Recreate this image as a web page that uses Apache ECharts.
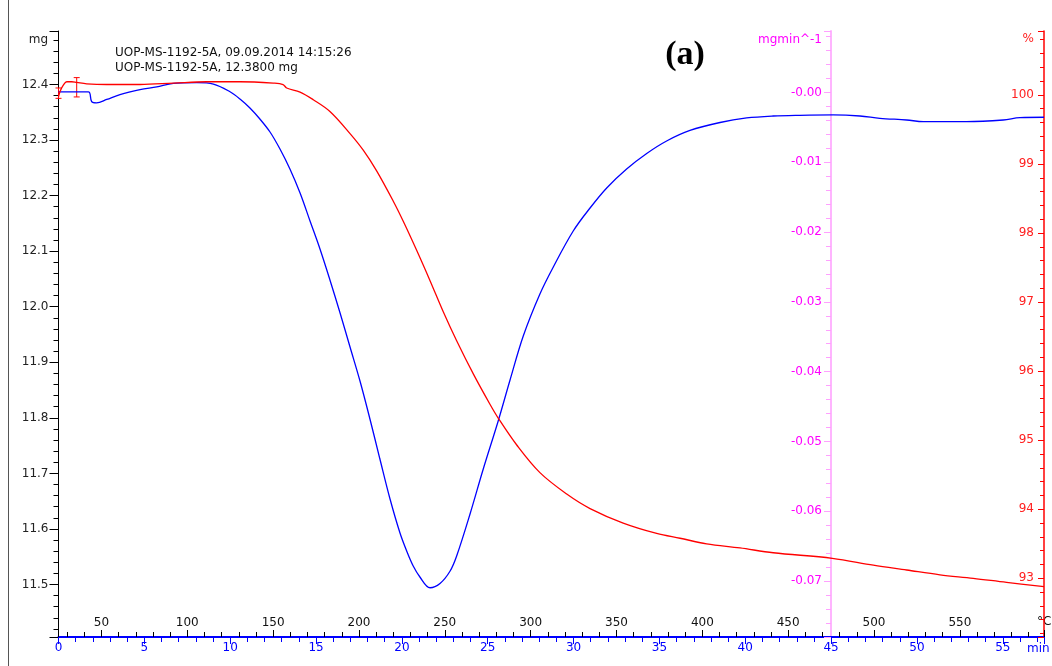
<!DOCTYPE html>
<html>
<head>
<meta charset="utf-8">
<title>UOP-MS-1192-5A TG / DTG</title>
<script src="https://cdn.jsdelivr.net/npm/echarts@6/dist/echarts.min.js"></script>
<style>
    html, body { margin: 0; padding: 0; background: #ffffff; }
    #tgChart { width: 1052px; height: 666px; }
</style>
</head>
<body>
<div id="tgChart"></div>
<script>
    // time axis (min) and the linked furnace temperature (°C)
    var timeMax = 57.4;
    var tempStart = 25;
    var heatRate = 10;

    // visible ranges of the three y axes
    var massRange = [11.4055, 12.4963];   // mg
    var dtgRange = [-0.07802, 0.00881];   // mgmin^-1
    var pctRange = [92.15, 100.925];      // %

    // TG curve (red), time in min / mass in %
    var tgTime = [0, 0.09, 0.28, 0.48, 0.77, 1.06, 1.64, 2.81, 4.75, 6.69, 8.63, 10.57,
        12.51, 13.08, 13.29, 14.07, 14.84, 15.81, 16.98, 17.75, 18.53, 19.50, 20.08, 20.86,
        21.64, 22.41, 23.19, 24.16, 25.13, 25.61, 26.69, 28.04, 29.60, 30.96, 32.89, 34.84,
        36.20, 37.75, 39.69, 41.63, 45.07, 47.46, 49.40, 51.34, 53.28, 55.22, 57.40];
    var tgPct = [99.97, 100.05, 100.14, 100.19, 100.19, 100.18, 100.16, 100.15, 100.15, 100.17, 100.19, 100.19,
        100.17, 100.15, 100.10, 100.04, 99.93, 99.76, 99.44, 99.20, 98.90, 98.46, 98.17, 97.75,
        97.31, 96.86, 96.44, 95.96, 95.52, 95.32, 94.93, 94.53, 94.22, 94.01, 93.80, 93.65,
        93.58, 93.50, 93.44, 93.37, 93.29, 93.19, 93.12, 93.05, 93.00, 92.94, 92.88];

    // DTG curve (blue), time in min / mgmin^-1
    var dtgTime = [0, 1.74, 1.93, 2.22, 2.81, 3.58, 4.75, 5.72, 6.69, 8.05, 9.02, 9.99,
        10.57, 11.15, 11.73, 12.32, 12.90, 13.48, 14.07, 14.65, 15.23, 15.81, 16.40, 16.98,
        17.56, 18.14, 18.72, 19.31, 19.89, 20.28, 20.66, 21.05, 21.64, 22.22,
        22.81, 23.19, 23.97, 24.74, 25.61, 26.30, 27.07, 28.04, 28.82, 29.98,
        30.96, 31.93, 33.09, 34.26, 35.42, 36.78, 38.53, 40.08, 41.63, 43.18, 45.12, 46.68,
        47.84, 49.40, 50.37, 52.89, 55.03, 56.00, 57.40];
    var dtgVal = [0.0001, 0.0001, -0.0013, -0.0015, -0.0010, -0.0003, 0.0004, 0.0008, 0.0013, 0.0014, 0.0012, 0.0001,
        -0.00093, -0.00222, -0.00380, -0.00566, -0.00810, -0.01096, -0.01440, -0.01841, -0.02242, -0.02686, -0.03159, -0.03647,
        -0.04134, -0.04678, -0.05252, -0.05825, -0.06312, -0.06570, -0.06785, -0.06942, -0.07096, -0.07035,
        -0.06856, -0.06641, -0.06039, -0.05395, -0.04707, -0.04120, -0.03489, -0.02887, -0.02500, -0.01985,
        -0.01655, -0.01368, -0.01096, -0.00874, -0.00695, -0.00544, -0.00430, -0.00365, -0.00337, -0.00327, -0.00322, -0.00337,
        -0.00370, -0.00394, -0.00418, -0.00418, -0.00394, -0.00361, -0.00355];

    // range markers at the start of the TG curve
    var markerTime = [0, 1.06];
    var markerLow = [99.95, 99.97];
    var markerHigh = [100.10, 100.25];

    var infoLines = ['UOP-MS-1192-5A, 09.09.2014 14:15:26', 'UOP-MS-1192-5A, 12.3800 mg'];

    function zip(a, b, c) {
        return a.map(function (v, i) { return c ? [v, b[i], c[i]] : [v, b[i]]; });
    }

    var font = 'DejaVu Sans';
    var chart = echarts.init(document.getElementById('tgChart'));

    var option = {
        animation: false,
        backgroundColor: '#ffffff',
        textStyle: { fontFamily: font, fontSize: 12 },
        grid: { left: 58.5, right: 8, top: 31, bottom: 29, containLabel: false, outerBoundsMode: 'none' },
        xAxis: [
            {   // time
                type: 'value', position: 'bottom',
                min: 0, max: timeMax, minInterval: 5, maxInterval: 5,
                axisLine: { show: true, onZero: false, lineStyle: { color: '#0000ff', width: 2 } },
                axisTick: { show: true, length: 7, lineStyle: { color: '#0000ff' } },
                minorTick: { show: true, splitNumber: 5, length: 5, lineStyle: { color: '#0000ff' } },
                axisLabel: { color: '#0000ff', fontFamily: font, fontSize: 12, margin: 5, showMaxLabel: false },
                splitLine: { show: false }
            },
            {   // temperature
                type: 'value', position: 'bottom',
                min: tempStart, max: tempStart + heatRate * timeMax, minInterval: 50, maxInterval: 50,
                axisLine: { show: false, onZero: false },
                axisTick: { show: true, inside: true, length: 7, lineStyle: { color: '#000000' } },
                minorTick: { show: true, splitNumber: 5, length: 5, lineStyle: { color: '#000000' } },
                axisLabel: { inside: true, color: '#111111', fontFamily: font, fontSize: 12, margin: 8,
                    showMinLabel: false, showMaxLabel: false },
                splitLine: { show: false }
            }
        ],
        yAxis: [
            {   // mg
                type: 'value', position: 'left',
                min: massRange[0], max: massRange[1], minInterval: 0.1, maxInterval: 0.1,
                axisLine: { show: true, onZero: false, lineStyle: { color: '#000000' } },
                axisTick: { show: true, length: 9, lineStyle: { color: '#000000' } },
                minorTick: { show: true, splitNumber: 5, length: 5, lineStyle: { color: '#000000' } },
                axisLabel: { color: '#222222', fontFamily: font, fontSize: 12, margin: 10,
                    showMinLabel: false, showMaxLabel: false,
                    formatter: function (v) { return v.toFixed(1); } },
                splitLine: { show: false }
            },
            {   // DTG, drawn at the 45 min mark
                type: 'value', position: 'right', offset: -213,
                min: dtgRange[0], max: dtgRange[1], minInterval: 0.01, maxInterval: 0.01,
                axisLine: { show: true, onZero: false, lineStyle: { color: '#ffb4ff', width: 2 } },
                axisTick: { show: true, inside: true, length: 7, lineStyle: { color: '#ffa0ff' } },
                minorTick: { show: true, splitNumber: 5, length: 5, lineStyle: { color: '#ffa0ff' } },
                axisLabel: { inside: true, color: '#ff00ff', fontFamily: font, fontSize: 12, margin: 9,
                    showMinLabel: false, showMaxLabel: false,
                    formatter: function (v) { return Math.abs(v) < 1e-9 ? '-0.00' : v.toFixed(2); } },
                splitLine: { show: false }
            },
            {   // %
                type: 'value', position: 'right',
                min: pctRange[0], max: pctRange[1], minInterval: 1, maxInterval: 1,
                axisLine: { show: true, onZero: false, lineStyle: { color: '#ff0000', width: 1.5 } },
                axisTick: { show: true, inside: true, length: 6, lineStyle: { color: '#ff0000' } },
                minorTick: { show: true, splitNumber: 5, length: 4, lineStyle: { color: '#ff0000' } },
                axisLabel: { inside: true, color: '#ff2020', fontFamily: font, fontSize: 12, margin: 10,
                    showMinLabel: false, showMaxLabel: false },
                splitLine: { show: false }
            }
        ],
        series: [
            {
                name: 'DTG', type: 'line', xAxisIndex: 0, yAxisIndex: 1,
                data: zip(dtgTime, dtgVal),
                showSymbol: false, smooth: 0.35,
                lineStyle: { color: '#0000ff', width: 1.3 }
            },
            {
                name: 'TG', type: 'line', xAxisIndex: 0, yAxisIndex: 2,
                data: zip(tgTime, tgPct),
                showSymbol: false, smooth: 0.35,
                lineStyle: { color: '#ff0000', width: 1.3 }
            },
            {
                name: 'markers', type: 'custom', xAxisIndex: 0, yAxisIndex: 2, clip: false,
                data: zip(markerTime, markerLow, markerHigh),
                encode: { x: 0, y: [1, 2] },
                renderItem: function (params, api) {
                    var lo = api.coord([api.value(0), api.value(1)]);
                    var hi = api.coord([api.value(0), api.value(2)]);
                    var st = { stroke: '#ff0000', lineWidth: 1 };
                    return {
                        type: 'group',
                        children: [
                            { type: 'line', shape: { x1: lo[0], y1: lo[1], x2: hi[0], y2: hi[1] }, style: st },
                            { type: 'line', shape: { x1: hi[0] - 3, y1: hi[1], x2: hi[0] + 3, y2: hi[1] }, style: st },
                            { type: 'line', shape: { x1: lo[0] - 3, y1: lo[1], x2: lo[0] + 3, y2: lo[1] }, style: st }
                        ]
                    };
                }
            }
        ],
        graphic: [
            { type: 'line', shape: { x1: 8.5, y1: 0, x2: 8.5, y2: 666 }, style: { stroke: '#555555', lineWidth: 1 } },
            { type: 'text', x: 115, y: 53, style: { text: infoLines[0], fill: '#111111', font: '12px "DejaVu Sans"', verticalAlign: 'middle' } },
            { type: 'text', x: 115, y: 67.5, style: { text: infoLines[1], fill: '#111111', font: '12px "DejaVu Sans"', verticalAlign: 'middle' } },
            { type: 'text', x: 685, y: 55, style: { text: '(a)', fill: '#000000', font: 'bold 34px "Liberation Serif"', align: 'center', verticalAlign: 'middle' } },
            { type: 'text', x: 48, y: 40, style: { text: 'mg', fill: '#222222', font: '12px "DejaVu Sans"', align: 'right', verticalAlign: 'middle' } },
            { type: 'text', x: 822, y: 40, style: { text: 'mgmin^-1', fill: '#ff00ff', font: '12px "DejaVu Sans"', align: 'right', verticalAlign: 'middle' } },
            { type: 'text', x: 1034, y: 39, style: { text: '%', fill: '#ff2020', font: '12px "DejaVu Sans"', align: 'right', verticalAlign: 'middle' } },
            { type: 'text', x: 1027, y: 649, style: { text: 'min', fill: '#0000ff', font: '12px "DejaVu Sans"', verticalAlign: 'middle' } },
            { type: 'text', x: 1037, y: 622, style: { text: '°C', fill: '#111111', font: '12px "DejaVu Sans"', verticalAlign: 'middle' } }
        ]
    };

    chart.setOption(option);
</script>
</body>
</html>
